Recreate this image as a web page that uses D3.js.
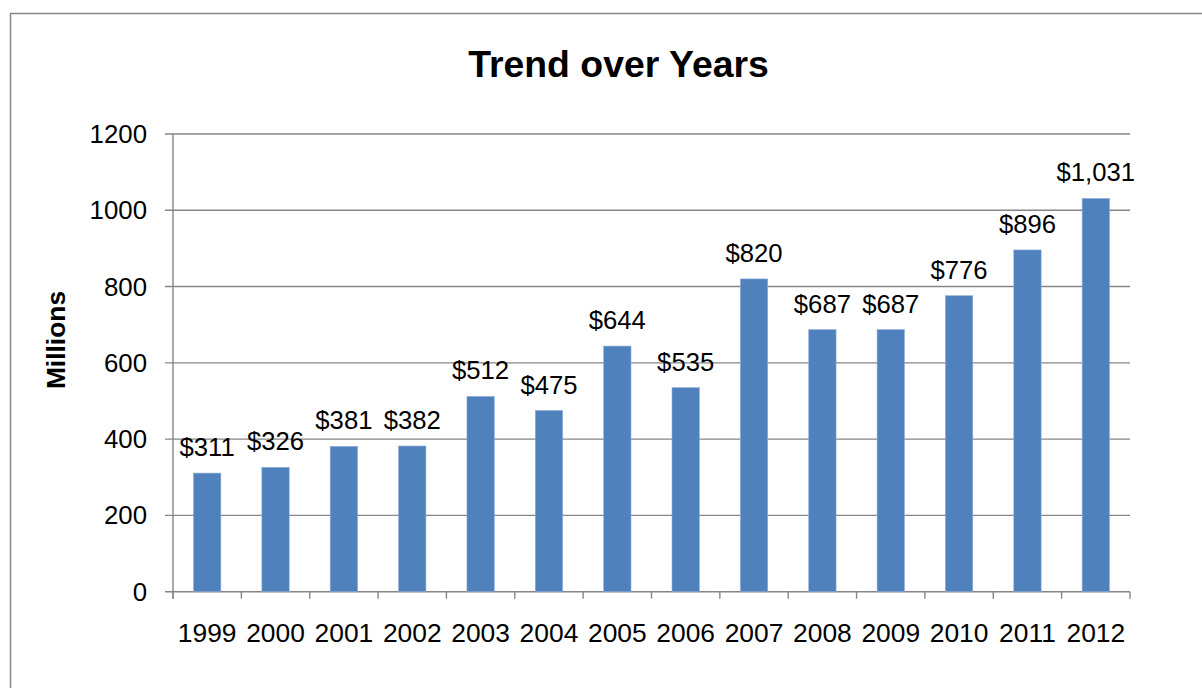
<!DOCTYPE html>
<html>
<head>
<meta charset="utf-8">
<script src="https://cdn.jsdelivr.net/npm/d3@7"></script>
<style>
  html, body { margin: 0; padding: 0; background: #fff; }
  svg { display: block; font-family: "Liberation Sans", Arial, sans-serif; }
</style>
</head>
<body>
<svg id="chart" width="1202" height="688"></svg>
<script>
// Annual totals, in millions of dollars
const years = ["1999", "2000", "2001", "2002", "2003", "2004", "2005", "2006", "2007", "2008", "2009", "2010", "2011", "2012"];
const values = [311, 326, 381, 382, 512, 475, 644, 535, 820, 687, 687, 776, 896, 1031];
const yTicks = [0, 200, 400, 600, 800, 1000, 1200];
const titleText = "Trend over Years";
const yTitle = "Millions";

const svg = d3.select("#chart");
const gridColor = "#868686";
const barColor = "#4F81BD";

// Frame around the chart area
svg.append("rect")
  .attr("x", 10.5).attr("y", 13.5)
  .attr("width", 1300).attr("height", 800)
  .attr("fill", "none")
  .attr("stroke", gridColor)
  .attr("stroke-width", 1.5);

const plot = { left: 173, right: 1130, top: 134, bottom: 591.7 };

const x = d3.scaleBand()
  .domain(years)
  .range([plot.left, plot.right])
  .paddingInner(0.6)
  .paddingOuter(0.3);

const y = d3.scaleLinear()
  .domain([0, 1200])
  .range([plot.bottom, plot.top]);

// Horizontal gridlines
svg.append("g")
  .selectAll("line")
  .data(yTicks)
  .join("line")
  .attr("x1", plot.left - 8)
  .attr("x2", plot.right)
  .attr("y1", d => y(d))
  .attr("y2", d => y(d))
  .attr("stroke", gridColor)
  .attr("stroke-width", 1.4);

// Y axis line
svg.append("line")
  .attr("x1", plot.left).attr("x2", plot.left)
  .attr("y1", plot.top).attr("y2", plot.bottom + 7)
  .attr("stroke", gridColor)
  .attr("stroke-width", 1.4);

// Category boundary ticks below the baseline
const step = x.step();
const boundaries = d3.range(years.length + 1).map(i => plot.left + i * step);
svg.append("g")
  .selectAll("line")
  .data(boundaries)
  .join("line")
  .attr("x1", d => d).attr("x2", d => d)
  .attr("y1", plot.bottom).attr("y2", plot.bottom + 7)
  .attr("stroke", gridColor)
  .attr("stroke-width", 1.4);

// Y tick labels
svg.append("g")
  .selectAll("text")
  .data(yTicks)
  .join("text")
  .attr("x", 147)
  .attr("y", d => y(d))
  .attr("dy", "0.35em")
  .attr("text-anchor", "end")
  .attr("font-size", 25.8)
  .attr("fill", "#000")
  .text(d => d);

// Bars
svg.append("g")
  .selectAll("rect")
  .data(values)
  .join("rect")
  .attr("x", (d, i) => x(years[i]))
  .attr("width", x.bandwidth())
  .attr("y", d => y(d))
  .attr("height", d => y(0) - y(d))
  .attr("fill", barColor)
  .attr("stroke", "#8fadd6")
  .attr("stroke-width", 0.6);

// Value labels
const fmt = d3.format("$,");
svg.append("g")
  .selectAll("text")
  .data(values)
  .join("text")
  .attr("x", (d, i) => x(years[i]) + x.bandwidth() / 2)
  .attr("y", d => y(d) - 17)
  .attr("text-anchor", "middle")
  .attr("font-size", 25.7)
  .attr("fill", "#000")
  .text(d => fmt(d));

// Year labels
svg.append("g")
  .selectAll("text")
  .data(years)
  .join("text")
  .attr("x", d => x(d) + x.bandwidth() / 2)
  .attr("y", 642)
  .attr("text-anchor", "middle")
  .attr("font-size", 26.4)
  .attr("fill", "#000")
  .text(d => d);

// Title
svg.append("text")
  .attr("x", 618.5)
  .attr("y", 77)
  .attr("text-anchor", "middle")
  .attr("font-size", 37.4)
  .attr("font-weight", "bold")
  .attr("fill", "#000")
  .text(titleText);

// Y axis title
svg.append("text")
  .attr("transform", "translate(65,340) rotate(-90)")
  .attr("text-anchor", "middle")
  .attr("font-size", 26.4)
  .attr("font-weight", "bold")
  .attr("fill", "#000")
  .text(yTitle);
</script>
</body>
</html>
